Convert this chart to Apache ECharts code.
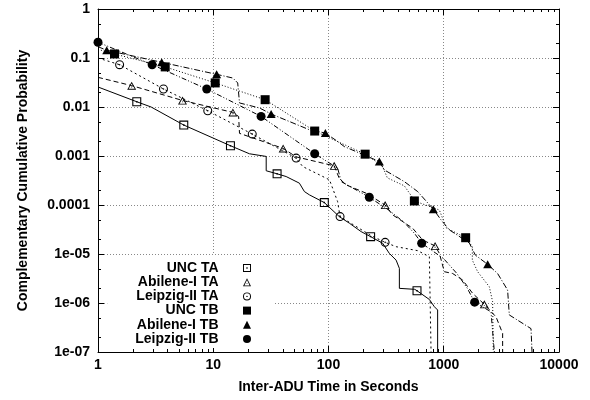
<!DOCTYPE html>
<html><head><meta charset="utf-8">
<script src="https://cdn.jsdelivr.net/npm/echarts@6/dist/echarts.min.js"></script>
<style>html,body{margin:0;padding:0;background:#fff}#c{width:590px;height:400px}</style>
</head><body><div id="c"></div>
<script>
// ---------- data ----------
const xTickLabels = ['1', '10', '100', '1000', '10000'];
const yTickLabels = ['1', '0.1', '0.01', '0.001', '0.0001', '1e-05', '1e-06', '1e-07'];
const seriesNames = ['UNC TA', 'Abilene-I TA', 'Leipzig-II TA', 'UNC TB', 'Abilene-I TB', 'Leipzig-II TB'];

const uncTaLine = [[1,0.0256],[2.17,0.0128],[2.89,0.0100],[5.55,0.00428],[14.1,0.00162],[20.6,0.00111],[28.8,0.00098],[28.8,0.00050],[35.8,0.000433],[42.9,0.000381],[55.9,0.000279],[61.8,0.000188],[68.3,0.000161],[92,0.000112],[124,5.8e-5],[152,4.24e-5],[192,2.86e-5],[232,2.26e-5],[295,1.66e-5],[337,1.03e-5],[386,7.5e-6],[412,5.1e-6],[412,1.99e-6],[560,1.9e-6],[586,1.78e-6],[750,1.18e-6],[829,8.4e-7],[885,7.2e-7],[885,1e-7]];
const uncTaMarks = [[2.17,0.0128],[5.55,0.00428],[14.1,0.00162],[35.8,0.000433],[92,0.000112],[232,2.26e-5],[586,1.78e-6]];

const abiTaLine = [[1,0.0403],[1.96,0.0273],[5.41,0.0136],[14.8,0.00776],[16.6,0.0064],[16.9,0.0029],[40.4,0.00143],[52.4,9.6e-4],[112,6.3e-4],[124,3.5e-4],[142,2.58e-4],[212,1.74e-4],[310,1.0e-4],[360,6.3e-5],[537,3.36e-5],[656,1.93e-5],[841,1.46e-5],[916,1.03e-5],[1012,4.35e-6],[1194,4.0e-6],[1459,2.94e-6],[1782,1.57e-6],[2249,9.4e-7],[2843,5.2e-7],[3243,2.4e-7],[3243,1e-7]];
const abiTaMarks = [[1.96,0.0273],[5.41,0.0136],[14.8,0.00776],[40.4,0.00143],[112,6.3e-4],[310,1.0e-4],[841,1.46e-5],[2249,9.4e-7]];

const leiTaLine = [[1,0.1],[1.54,0.073],[3.70,0.0233],[8.96,0.0084],[21.8,0.0028],[52.4,9.05e-4],[59.7,6.1e-4],[102,3.26e-4],[120,1.17e-4],[126,5.8e-5],[232,2.4e-5],[310,1.73e-5],[386,1.41e-5],[594,1.17e-5],[750,8.8e-6],[776,8.5e-6],[776,1e-7]];
const leiTaMarks = [[1.54,0.073],[3.70,0.0233],[8.96,0.0084],[21.8,0.0028],[52.4,9.05e-4],[126,5.8e-5],[310,1.73e-5]];

const uncTbLine = [[1,0.15],[1.39,0.121],[3.83,0.0658],[10.4,0.031],[28.2,0.0141],[75.9,0.00323],[208,0.00109],[293,6.3e-4],[324,3.58e-4],[455,2.46e-4],[524,1.53e-4],[556,1.21e-4],[916,7.9e-5],[1054,3.4e-5],[1549,2.15e-5],[1770,1.41e-5],[1770,7.5e-6],[1968,4.35e-6],[2487,2.14e-6],[2655,1.06e-6],[2692,1e-7]];
const uncTbMarks = [[1.39,0.121],[3.83,0.0658],[10.4,0.031],[28.2,0.0141],[75.9,0.00323],[208,0.00109],[556,1.21e-4],[1549,2.15e-5]];

const abiTbLine = [[1,0.17],[1.19,0.144],[3.57,0.0817],[10.7,0.0464],[14.8,0.039],[16.3,0.031],[16.9,0.0121],[25.2,0.00955],[31.8,0.0072],[68.3,0.00343],[94,0.00294],[120,0.00198],[137,0.00156],[276,7.72e-4],[305,5.2e-4],[455,3.0e-4],[594,1.88e-4],[812,8.2e-5],[948,4.96e-5],[1119,3.1e-5],[1667,1.68e-5],[1880,9.5e-6],[2404,6.15e-6],[2932,4.0e-6],[3581,1.84e-6],[3706,5.7e-7],[5717,3.0e-7],[5834,1e-7]];
const abiTbMarks = [[1.19,0.144],[3.57,0.0817],[10.7,0.0464],[31.8,0.0072],[94,0.00294],[276,7.72e-4],[812,8.2e-5],[2404,6.15e-6]];

const leiTbLine = [[1,0.21],[2.95,0.073],[8.78,0.0233],[26,0.00643],[75.9,0.00111],[120,5.66e-4],[129,3.0e-4],[226,1.44e-4],[330,8.0e-5],[450,4.5e-5],[560,2.6e-5],[643,1.66e-5],[1000,8.0e-6],[1300,4.0e-6],[1600,2.0e-6],[1854,1.04e-6],[2570,6.6e-7],[2748,1e-7]];
const leiTbMarks = [[1,0.21],[2.95,0.073],[8.78,0.0233],[26,0.00643],[75.9,0.00111],[226,1.44e-4],[643,1.66e-5],[1854,1.04e-6]];

// ---------- styling ----------
const FONT = "'Liberation Sans', Arial, Helvetica, sans-serif";
const X_MIN = 1, X_MAX = 10000, Y_MIN = 1e-7, Y_MAX = 1;
const SYM = {
  openSquare: 'path://M0,0H100V100H0Z M12,12V88H88V12Z M42,42H58V58H42Z',
  openTriangle: 'path://M50,0L100,100H0Z M50,24L17,90H83Z M45,62H55V72H45Z',
  openCircle: 'path://M50,0A50,50,0,1,1,50,100A50,50,0,1,1,50,0Z M50,12A38,38,0,1,0,50,88A38,38,0,1,0,50,12Z M50,41A9,9,0,1,1,50,59A9,9,0,1,1,50,41Z',
  square: 'path://M0,0H100V100H0Z',
  triangle: 'path://M50,0L100,100H0Z',
  circle: 'path://M50,0A50,50,0,1,1,50,100A50,50,0,1,1,50,0Z'
};
const defs = [
  {name: seriesNames[0], line: uncTaLine, marks: uncTaMarks, sym: SYM.openSquare, size: 9, dash: 'solid'},
  {name: seriesNames[1], line: abiTaLine, marks: abiTaMarks, sym: SYM.openTriangle, size: [9, 8], dash: [5, 3]},
  {name: seriesNames[2], line: leiTaLine, marks: leiTaMarks, sym: SYM.openCircle, size: 9, dash: [2, 3]},
  {name: seriesNames[3], line: uncTbLine, marks: uncTbMarks, sym: SYM.square, size: 9, dash: [1, 2]},
  {name: seriesNames[4], line: abiTbLine, marks: abiTbMarks, sym: SYM.triangle, size: [9, 8], dash: [6, 2, 1, 2]},
  {name: seriesNames[5], line: leiTbLine, marks: leiTbMarks, sym: SYM.circle, size: 9, dash: [5, 2, 1, 2, 1, 2]}
];

const series = [];
defs.forEach(d => {
  series.push({
    name: d.name, type: 'line', data: d.line, showSymbol: false, symbol: 'none',
    lineStyle: {color: '#000', width: 1, type: d.dash}, itemStyle: {color: '#000'},
    z: 2, animation: false, silent: true
  });
  series.push({
    name: d.name, type: 'scatter', data: d.marks, symbol: d.sym, symbolSize: d.size,
    itemStyle: {color: '#000', borderWidth: 0, opacity: 1}, z: 3, animation: false, silent: true
  });
});

// minor ticks (gnuplot style, inward on all four sides)
const xMinor = [], yMinor = [];
for (let e = 0; e < 4; e++) for (let m = 2; m <= 9; m++) xMinor.push(m * Math.pow(10, e));
for (let e = -7; e < 0; e++) [2, 5].forEach(m => yMinor.push(m * Math.pow(10, e)));
function px(v) { return Math.round(v) + 0.5; }
series.push({
  type: 'custom', coordinateSystem: 'cartesian2d', data: [[1, 1]], silent: true, z: 4, animation: false,
  renderItem: function (params, api) {
    const ch = [];
    const st = {stroke: '#000', lineWidth: 1};
    xMinor.forEach(v => {
      const b = api.coord([v, Y_MIN]), t = api.coord([v, Y_MAX]);
      const x = px(b[0]);
      ch.push({type: 'line', shape: {x1: x, y1: b[1], x2: x, y2: b[1] - 3}, style: st});
      ch.push({type: 'line', shape: {x1: x, y1: t[1], x2: x, y2: t[1] + 3}, style: st});
    });
    yMinor.forEach(v => {
      const l = api.coord([X_MIN, v]), r = api.coord([X_MAX, v]);
      const y = px(l[1]);
      ch.push({type: 'line', shape: {x1: l[0], y1: y, x2: l[0] + 3, y2: y}, style: st});
      ch.push({type: 'line', shape: {x1: r[0], y1: y, x2: r[0] - 3, y2: y}, style: st});
    });
    return {type: 'group', children: ch};
  }
});

const labelStyle = {fontFamily: FONT, fontSize: 14, fontWeight: 'bold', color: '#000'};
const gridLine = {show: true, lineStyle: {color: '#888', width: 1, type: [1, 2]}};
const axisLineBlack = {show: true, lineStyle: {color: '#000', width: 1}};
const tickIn = {show: true, inside: true, length: 6, lineStyle: {color: '#000', width: 1}};

const option = {
  backgroundColor: '#fff',
  animation: false,
  grid: {left: 98, right: 31, top: 9, bottom: 48, containLabel: false},
  xAxis: [{
    type: 'log', logBase: 10, min: X_MIN, max: X_MAX, position: 'bottom',
    name: 'Inter-ADU Time in Seconds', nameLocation: 'middle', nameGap: 28,
    nameTextStyle: labelStyle,
    axisLine: axisLineBlack, axisTick: tickIn, splitLine: gridLine,
    axisLabel: Object.assign({margin: 6, formatter: v => xTickLabels[Math.round(Math.log10(v))]}, labelStyle)
  }, {
    type: 'log', logBase: 10, min: X_MIN, max: X_MAX, position: 'top',
    axisLine: axisLineBlack, axisTick: tickIn, splitLine: {show: false}, axisLabel: {show: false}
  }],
  yAxis: [{
    type: 'log', logBase: 10, min: Y_MIN, max: Y_MAX, position: 'left',
    name: 'Complementary Cumulative Probability', nameLocation: 'middle', nameGap: 68,
    nameTextStyle: labelStyle,
    axisLine: axisLineBlack, axisTick: tickIn, splitLine: gridLine,
    axisLabel: Object.assign({margin: 8, formatter: v => yTickLabels[Math.round(-Math.log10(v))]}, labelStyle)
  }, {
    type: 'log', logBase: 10, min: Y_MIN, max: Y_MAX, position: 'right',
    axisLine: axisLineBlack, axisTick: tickIn, splitLine: {show: false}, axisLabel: {show: false}
  }],
  legend: {
    orient: 'vertical', align: 'right', right: 315, top: 255,
    itemWidth: 47, itemHeight: 8, itemGap: 0.2, padding: [6, 24, 2, 28],
    backgroundColor: '#fff', selectedMode: false, symbolKeepAspect: true,
    textStyle: {fontFamily: FONT, fontSize: 14, fontWeight: 'bold', color: '#000'},
    data: defs.map(d => ({name: d.name, icon: d.sym, itemStyle: {color: '#000', borderWidth: 0}}))
  },
  series: series
};
const chart = echarts.init(document.getElementById('c'), null, {renderer: 'canvas'});
chart.setOption(option);
</script></body></html>
